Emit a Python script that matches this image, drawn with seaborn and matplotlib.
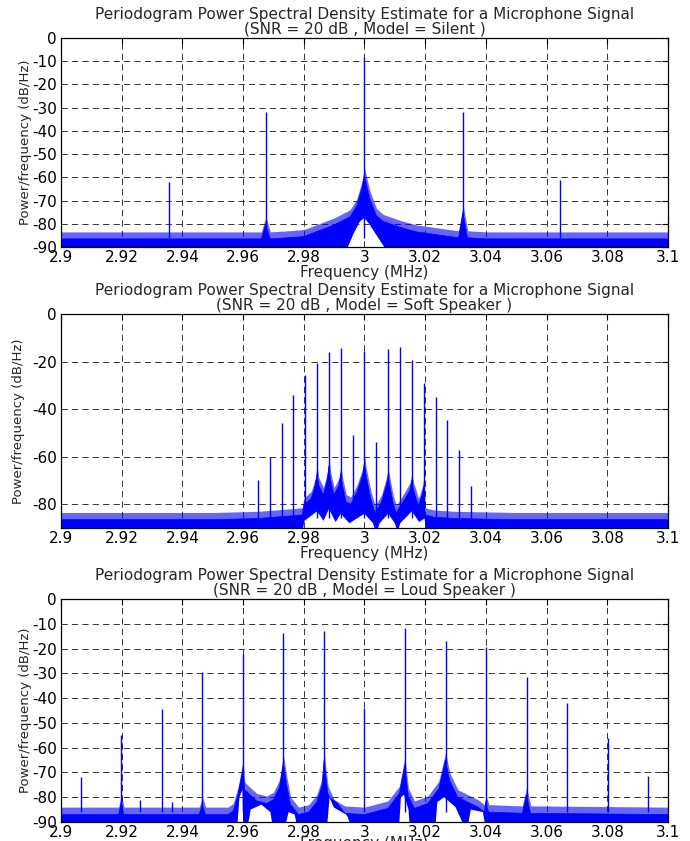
import matplotlib
matplotlib.use("Agg")
import matplotlib.pyplot as plt
import seaborn as sns

sns.set_style("white")
plt.rcParams['font.family'] = ['DejaVu Sans']
plt.rcParams['lines.scale_dashes'] = False

BLUE = '#0000ff'

# x axis
x_ticks = [2.9, 2.92, 2.94, 2.96, 2.98, 3.0, 3.02, 3.04, 3.06, 3.08, 3.1]
x_labels = ['2.9', '2.92', '2.94', '2.96', '2.98', '3', '3.02', '3.04', '3.06', '3.08', '3.1']

# ---- Model = Silent ----
silent_peak_f = [2.9355, 2.9675, 3.0, 3.0325, 3.0645]
silent_peak_db = [-62, -32, -8, -32, -61]
silent_top_f = [2.900, 2.966, 2.9675, 2.969, 2.975, 2.980, 2.984, 2.990, 2.9952, 2.9974,
                2.9991, 3.000, 3.0018, 3.004, 3.0062, 3.0117, 3.0172, 3.0227, 3.028,
                3.031, 3.0325, 3.034, 3.040, 3.100]
silent_top_db = [-86.5, -86.5, -80, -86.5, -86, -85.5, -83.5, -80.5, -77, -72.5,
                 -65, -59, -69, -76.5, -79, -81.5, -83.5, -84.5, -85.5,
                 -86, -75, -86, -86.5, -86.5]
silent_low_f = [2.900, 2.9945, 2.9965, 2.9985, 3.000, 3.0015, 3.004, 3.0065, 3.100]
silent_low_db = [-90, -90, -84, -79, -77.5, -80, -85, -90, -90]

# ---- Model = Soft Speaker ----
soft_peak_f = [2.9649, 2.9688, 2.9727, 2.9766, 2.9805, 2.9844, 2.9883, 2.9922, 2.9961,
               3.0000, 3.0039, 3.0078, 3.0117, 3.0156, 3.0195, 3.0234, 3.0273, 3.0312,
               3.0351]
soft_peak_db = [-70, -60, -46, -34, -25.5, -20.5, -16, -14.5, -51,
                -15.5, -54, -14.7, -13.8, -19.3, -29, -35, -44.7, -57, -72.5]
soft_top_f = [2.900, 2.950, 2.965, 2.975, 2.9795, 2.9800, 2.9825, 2.9838, 2.9844, 2.9850,
              2.9865, 2.9877, 2.9883, 2.9889, 2.9900, 2.9916, 2.9922, 2.9928, 2.9940,
              2.9955, 2.9975, 2.9994, 3.0000, 3.0006, 3.0022, 3.0035, 3.0055, 3.0072,
              3.0078, 3.0084, 3.0095, 3.0105, 3.0125, 3.0150, 3.0156, 3.0162, 3.0178,
              3.0190, 3.0195, 3.0200, 3.0230, 3.0300, 3.0500, 3.1000]
soft_top_db = [-86.5, -86.5, -86, -85, -84.5, -80.5, -77.5, -72, -67, -72,
               -76, -70, -64, -70, -76, -72, -67, -72, -79,
               -80, -75, -68, -62.5, -68, -78, -83.5, -79.5, -72,
               -68, -72, -79.5, -83.5, -79.5, -74, -70, -74, -80.5,
               -76, -72.5, -84.5, -85.5, -86, -86.5, -86.5]
soft_low_f = [2.900, 2.9798, 2.9802, 2.9844, 2.9865, 2.9883, 2.9905, 2.9922, 2.9950,
              3.0000, 3.0028, 3.0033, 3.0045, 3.0050, 3.0078, 3.0100, 3.0105, 3.0113,
              3.0118, 3.0156, 3.0180, 3.0198, 3.0202, 3.100]
soft_low_db = [-90, -90, -87, -83, -87, -82, -87.5, -84, -88,
               -84, -88, -90, -90, -88, -84, -88, -90, -90,
               -88, -83, -87.5, -86, -90, -90]

# ---- Model = Loud Speaker ----
loud_peak_f = [2.9066, 2.9199, 2.9261, 2.9333, 2.9365, 2.9466, 2.9600, 2.9733, 2.9867,
               3.0000, 3.0133, 3.0267, 3.0400, 3.0534, 3.0667, 3.0801, 3.0934]
loud_peak_db = [-72, -55, -81, -44.5, -82, -29.4, -22.2, -13.7, -12.8,
                -44.2, -11.8, -16.8, -19.5, -31.3, -41.8, -56, -71.6]
loud_top_f = [2.900, 2.9190, 2.9199, 2.9208, 2.9455, 2.9466, 2.9477, 2.9550, 2.9568,
              2.9584, 2.9595, 2.9600, 2.9606, 2.9623, 2.9645, 2.9678, 2.9700, 2.9720,
              2.9733, 2.9745, 2.9757, 2.9783, 2.9816, 2.9843, 2.9860, 2.9867, 2.9880,
              2.9900, 2.9935, 3.0000, 3.0077, 3.0115, 3.0133, 3.0145, 3.0165, 3.0209,
              3.0245, 3.0267, 3.0282, 3.0308, 3.0341, 3.0374, 3.0395, 3.0400, 3.0410,
              3.0520, 3.0534, 3.0548, 3.1000]
loud_top_db = [-87, -87, -82, -87, -87, -83, -87, -87, -85.5,
               -78.5, -71.5, -68, -77, -79, -81.5, -82.5, -81, -76,
               -66, -75.5, -83, -87, -86, -82, -75.5, -65, -78.5,
               -84, -86.5, -87, -84.5, -78.5, -67, -79.5, -84.5, -82.5,
               -76.5, -65, -73.5, -80, -82, -84, -86, -82, -86,
               -86.5, -79, -86.5, -87]
loud_low_f = [2.900, 2.9582, 2.9588, 2.9598, 2.9600, 2.9618, 2.9625, 2.9660, 2.9690,
              2.9695, 2.9742, 2.9750, 2.9770, 2.9775, 2.9878, 2.9885, 2.9910, 2.9945,
              2.9950, 3.0115, 3.0120, 3.0130, 3.0145, 3.0148, 3.0235, 3.0240, 3.0262,
              3.0300, 3.0322, 3.0343, 3.0350, 3.0390, 3.0396, 3.100]
loud_low_db = [-90, -90, -80, -77, -90, -90, -85, -83, -86,
               -90, -90, -86, -87, -90, -90, -80, -82, -88,
               -90, -90, -80, -79, -85, -90, -90, -82, -80,
               -84, -90, -90, -85, -86, -90, -90]

title_main = 'Periodogram Power Spectral Density Estimate for a Microphone Signal'
models = ['Silent', 'Soft Speaker', 'Loud Speaker']
y_ticks = [[0, -10, -20, -30, -40, -50, -60, -70, -80, -90],
           [0, -20, -40, -60, -80],
           [0, -10, -20, -30, -40, -50, -60, -70, -80, -90]]

panels = [
    (silent_peak_f, silent_peak_db, silent_top_f, silent_top_db, silent_low_f, silent_low_db),
    (soft_peak_f, soft_peak_db, soft_top_f, soft_top_db, soft_low_f, soft_low_db),
    (loud_peak_f, loud_peak_db, loud_top_f, loud_top_db, loud_low_f, loud_low_db),
]

# axes rectangles in figure fraction (left, bottom, width, height)
rects = [[0.0884, 0.7063, 0.8797, 0.2485],
         [0.0884, 0.3722, 0.8797, 0.2545],
         [0.0884, 0.0226, 0.8797, 0.2652]]
ylabel_x = [-0.047, -0.059, -0.047]
xlabel_pad = [0, 0, -3]

fig = plt.figure(figsize=(6.9, 8.41), dpi=100)

for i, (pf, pdb, tf, tdb, lf, ldb) in enumerate(panels):
    ax = fig.add_axes(rects[i])
    ax.set_axisbelow(True)

    # dense noise band between lower and upper envelope
    ax.fill(list(tf) + list(lf[::-1]), list(tdb) + list(ldb[::-1]),
            color=BLUE, linewidth=0, zorder=2)
    # ragged top of the noise floor
    ax.fill_between(tf, tdb, [v + 3 for v in tdb], color=BLUE, alpha=0.6,
                    linewidth=0, zorder=2)
    sns.lineplot(x=tf, y=tdb, ax=ax, color=BLUE, linewidth=0.5, zorder=3)
    # spectral lines
    ax.vlines(pf, -86, pdb, color=BLUE, linewidth=1.0, zorder=4)

    ax.set_xlim(2.9, 3.1)
    ax.set_ylim(-90, 0)
    ax.set_xticks(x_ticks, x_labels)
    ax.set_yticks(y_ticks[i], [str(v) for v in y_ticks[i]])
    ax.tick_params(direction='in', length=4, width=0.8, top=True, right=True,
                   labelsize=11, pad=3, colors='black')
    ax.tick_params(axis='x', pad=2)
    ax.grid(True, color='0.2', linestyle=(0, (4.5, 3)), linewidth=0.7)
    for s in ax.spines.values():
        s.set_color('black')
        s.set_linewidth(0.9)

    ax.set_title(title_main + '\n(SNR = 20 dB , Model = ' + models[i] + ' )',
                 fontsize=11, pad=3, linespacing=0.95)
    ax.set_xlabel('Frequency (MHz)', fontsize=11, labelpad=xlabel_pad[i])
    ax.set_ylabel('Power/frequency (dB/Hz)', fontsize=9.5)
    ax.yaxis.set_label_coords(ylabel_x[i], 0.5)

fig.savefig('out.png', dpi=100)
